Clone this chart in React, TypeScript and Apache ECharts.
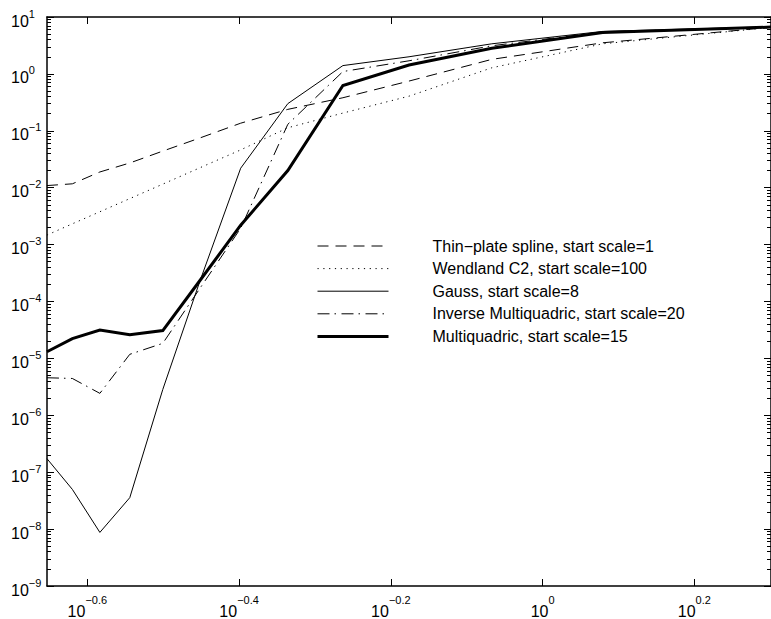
import { useEffect, useRef } from 'react';
import * as echarts from 'echarts';

// Fill distance h (x) and RMS error (y) for each kernel
const xValues = [0.2222, 0.24, 0.2609, 0.2857, 0.3158, 0.3529, 0.4, 0.4615, 0.5455, 0.6667, 0.8571, 1.2, 2.0];

const thinPlate = [0.0109, 0.0117, 0.0189, 0.0272, 0.044, 0.0743, 0.136, 0.238, 0.381, 0.748, 1.8, 3.52, 6.6];
const wendland = [1.47e-3, 2.32e-3, 3.78e-3, 6.43e-3, 0.01156, 0.0222, 0.0462, 0.113, 0.205, 0.406, 1.28, 3.38, 6.55];
const gauss = [1.73e-7, 4.99e-8, 8.75e-9, 3.57e-8, 2.85e-6, 2.15e-4, 0.022, 0.3, 1.4, 2.0, 3.38, 5.58, 6.74];
const invMultiquadric = [4.57e-6, 4.44e-6, 2.43e-6, 1.18e-5, 1.84e-5, 1.65e-4, 1.94e-3, 0.13, 1.1, 1.7, 3.12, 5.47, 6.7];
const multiquadric = [1.31e-5, 2.22e-5, 3.14e-5, 2.6e-5, 3.09e-5, 2.27e-4, 2.19e-3, 0.02, 0.625, 1.43, 2.82, 5.36, 6.64];

const seriesNames = [
  'Thin\u2212plate spline, start scale=1',
  'Wendland C2, start scale=100',
  'Gauss, start scale=8',
  'Inverse Multiquadric, start scale=20',
  'Multiquadric, start scale=15',
];

// Axis extents and tick exponents (powers of ten)
const xMin = 2 / 9;
const xMax = 2;
const xTickExponents = [-0.6, -0.4, -0.2, 0, 0.2];
const yMinExp = -9;
const yMaxExp = 1;

const FONT = '"Liberation Sans", Arial, Helvetica, sans-serif';

const expText = (v: number) => {
  const r = Math.round(v * 10) / 10;
  return (r < 0 ? '\u2212' : '') + String(Math.abs(r));
};

const minorTickValues = (() => {
  const out: number[] = [];
  for (let n = yMinExp; n < yMaxExp; n++) {
    for (let m = 2; m <= 9; m++) out.push(n + Math.log10(m));
  }
  return out;
})();

const toPairs = (ys: number[]) => xValues.map((x, i) => [x, ys[i]]);

export default function App() {
  const ref = useRef<HTMLDivElement>(null);

  useEffect(() => {
    if (!ref.current) return;
    const chart = echarts.init(ref.current, undefined, { renderer: 'svg' });

    const axisLine = { show: true, onZero: false, lineStyle: { color: '#000', width: 1.5 } };
    const grid = { left: 47, top: 17, width: 727, height: 574 };
    const xLo = Math.log10(xMin);
    const xHi = Math.log10(xMax);

    const xRich = {
      b: { fontSize: 16, lineHeight: 25, verticalAlign: 'bottom', fontFamily: FONT, color: '#000' },
      s: { fontSize: 11, lineHeight: 11, verticalAlign: 'top', fontFamily: FONT, color: '#000' },
    };
    const yRich = {
      b: { fontSize: 16, lineHeight: 21, verticalAlign: 'bottom', fontFamily: FONT, color: '#000' },
      s: { fontSize: 11, lineHeight: 11, verticalAlign: 'top', fontFamily: FONT, color: '#000' },
    };

    const styles = [
      { color: '#000', width: 1, type: [11, 7] },
      { color: '#000', width: 1, type: [1.2, 4.6] },
      { color: '#000', width: 1, type: 'solid' },
      { color: '#000', width: 1, type: [12, 5, 1.5, 5.5] },
      { color: '#000', width: 3, type: 'solid' },
    ];
    const data = [thinPlate, wendland, gauss, invMultiquadric, multiquadric];

    chart.setOption({
      animation: false,
      backgroundColor: '#fff',
      grid,
      legend: {
        orient: 'vertical',
        left: 316,
        top: 237,
        padding: 0,
        itemWidth: 71,
        itemHeight: 18,
        itemGap: 4.6,
        selectedMode: false,
        itemStyle: { color: 'transparent', borderWidth: 0, opacity: 0 },
        lineStyle: { width: 'inherit' },
        textStyle: { fontSize: 16, fontFamily: FONT, color: '#000', lineHeight: 12, padding: [6, 0, 0, 39] },
        data: seriesNames,
      },
      xAxis: [
        { type: 'log', logBase: 10, min: xMin, max: xMax, show: false },
        {
          type: 'value', position: 'bottom', min: xLo, max: xHi,
          axisLine,
          splitLine: { show: false },
          axisTick: { show: true, inside: true, length: 7, customValues: xTickExponents, lineStyle: { color: '#000', width: 1 } },
          axisLabel: {
            show: true, margin: 8, customValues: xTickExponents,
            formatter: (v: number) => `{b|10}{s|${expText(v)}}`,
            rich: xRich,
          },
        },
        {
          type: 'value', position: 'top', min: xLo, max: xHi,
          axisLine,
          splitLine: { show: false },
          axisTick: { show: true, inside: true, length: 7, customValues: xTickExponents, lineStyle: { color: '#000', width: 1 } },
          axisLabel: { show: false },
        },
      ],
      yAxis: [
        { type: 'log', logBase: 10, min: Math.pow(10, yMinExp), max: Math.pow(10, yMaxExp), show: false },
        {
          type: 'value', position: 'left', min: yMinExp, max: yMaxExp, interval: 1,
          axisLine,
          splitLine: { show: false },
          axisTick: { show: true, inside: true, length: 7, lineStyle: { color: '#000', width: 1 } },
          axisLabel: {
            show: true, margin: 36, align: 'left', padding: [3, 0, 0, 0],
            formatter: (v: number) => `{b|10}{s|${expText(v)}}`,
            rich: yRich,
          },
        },
        {
          type: 'value', position: 'right', min: yMinExp, max: yMaxExp, interval: 1,
          axisLine,
          splitLine: { show: false },
          axisTick: { show: true, inside: true, length: 7, lineStyle: { color: '#000', width: 1 } },
          axisLabel: { show: false },
        },
        {
          type: 'value', position: 'left', min: yMinExp, max: yMaxExp,
          axisLine: { show: false, onZero: false },
          splitLine: { show: false },
          axisTick: { show: true, inside: true, length: 4, customValues: minorTickValues, lineStyle: { color: '#000', width: 1 } },
          axisLabel: { show: false },
        },
        {
          type: 'value', position: 'right', min: yMinExp, max: yMaxExp,
          axisLine: { show: false, onZero: false },
          splitLine: { show: false },
          axisTick: { show: true, inside: true, length: 4, customValues: minorTickValues, lineStyle: { color: '#000', width: 1 } },
          axisLabel: { show: false },
        },
      ],
      series: seriesNames.map((name, i) => ({
        name,
        type: 'line',
        xAxisIndex: 0,
        yAxisIndex: 0,
        symbol: 'none',
        showSymbol: false,
        lineStyle: { ...styles[i], cap: 'butt', join: 'miter' },
        itemStyle: { color: '#000' },
        emphasis: { disabled: true },
        data: toPairs(data[i]),
        z: i === 4 ? 3 : 2,
      })),
    });

    return () => chart.dispose();
  }, []);

  return (
    <div
      ref={ref}
      style={{ position: 'absolute', left: 0, top: 0, width: 771, height: 619 }}
    />
  );
}
